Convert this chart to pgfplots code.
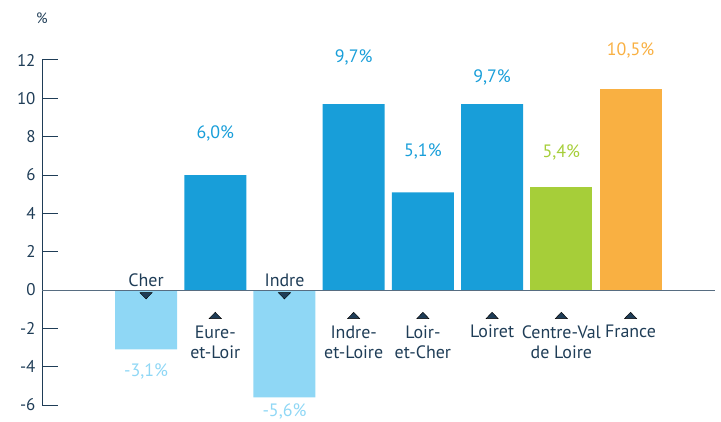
\documentclass[border=0pt]{standalone}
\usepackage{fontspec}
\setmainfont{PT Sans}
\usepackage{pgfplots}
\pgfplotsset{compat=1.18}
\definecolor{cblue}{HTML}{189ED9}
\definecolor{clight}{HTML}{8FD7F5}
\definecolor{cgreen}{HTML}{A6CE39}
\definecolor{corange}{HTML}{F9B042}
\definecolor{cnavy}{HTML}{1F3D57}
\begin{document}
\begin{tikzpicture}[x=1bp,y=1bp]
\useasboundingbox (0,0) rectangle (721,421);
\begin{axis}[
  at={(42bp,16bp)}, anchor=south west,
  scale only axis, width=673bp, height=345bp,
  xmin=-1.503, xmax=8.22, ymin=-6, ymax=12,
  axis y line*=left, axis x line=none,
  y axis line style={cnavy, line width=1bp},
  ytick={-6,-4,...,12}, xtick=\empty,
  tick align=inside, major tick length=16bp,
  tick style={cnavy, line width=1bp},
  yticklabel style={font=\fontsize{17}{17}\selectfont, text=cnavy, xshift=-3bp},
  /pgf/number format/assume math mode=true,
  ybar, bar width=62bp, clip=false,
]
\addplot[fill=clight, draw=none, bar shift=0pt] coordinates {(0,-3.1) (2,-5.6)};
\addplot[fill=cblue, draw=none, bar shift=0pt] coordinates {(1,6.0) (3,9.7) (4,5.1) (5,9.7)};
\addplot[fill=cgreen, draw=none, bar shift=0pt] coordinates {(6,5.4)};
\addplot[fill=corange, draw=none, bar shift=0pt] coordinates {(7,10.5)};
\draw[cnavy!75, line width=1bp] (axis cs:-1.503,0) -- (axis cs:8.22,0);
% triangles
\addplot[only marks, mark=triangle*, mark size=7bp, mark options={fill=cnavy, draw=none, yscale=0.6}] coordinates {(1,-1.38) (3,-1.38) (4,-1.38) (5,-1.38) (6,-1.38) (7,-1.38)};
\addplot[only marks, mark=triangle*, mark size=7bp, mark options={fill=cnavy, draw=none, yscale=0.6, rotate=180}] coordinates {(0,-0.25) (2,-0.25)};
% category labels
\begin{scope}[every node/.style={font=\fontsize{18}{20}\selectfont, text=cnavy, align=center, anchor=base, inner sep=0pt}]
\node at (axis cs:0,0.16) {Cher};
\node at (axis cs:2,0.16) {Indre};
\node at (axis cs:1,-3.55) {Eure-\\et-Loir};
\node at (axis cs:3,-3.55) {Indre-\\et-Loire};
\node at (axis cs:4,-3.55) {Loir-\\et-Cher};
\node at (axis cs:5,-2.50) {Loiret};
\node at (axis cs:6,-3.55) {Centre-Val\\de Loire};
\node at (axis cs:7,-2.50) {France};
\end{scope}
% value labels
\begin{scope}[every node/.style={font=\fontsize{18}{20}\selectfont, anchor=base, inner sep=0pt}]
\node[text=clight] at (axis cs:0,-4.49) {-3,1\%};
\node[text=cblue] at (axis cs:1,7.93) {6,0\%};
\node[text=clight] at (axis cs:2,-6.6) {-5,6\%};
\node[text=cblue] at (axis cs:3,11.89) {9,7\%};
\node[text=cblue] at (axis cs:4,6.99) {5,1\%};
\node[text=cblue] at (axis cs:5,10.85) {9,7\%};
\node[text=cgreen] at (axis cs:6,6.89) {5,4\%};
\node[text=corange] at (axis cs:7,12.26) {10,5\%};
\end{scope}
\node[font=\fontsize{15}{15}\selectfont, text=cnavy, anchor=base, inner sep=0pt] at (axis cs:-1.503,13.93) {\%};
\end{axis}
\end{tikzpicture}
\end{document}
